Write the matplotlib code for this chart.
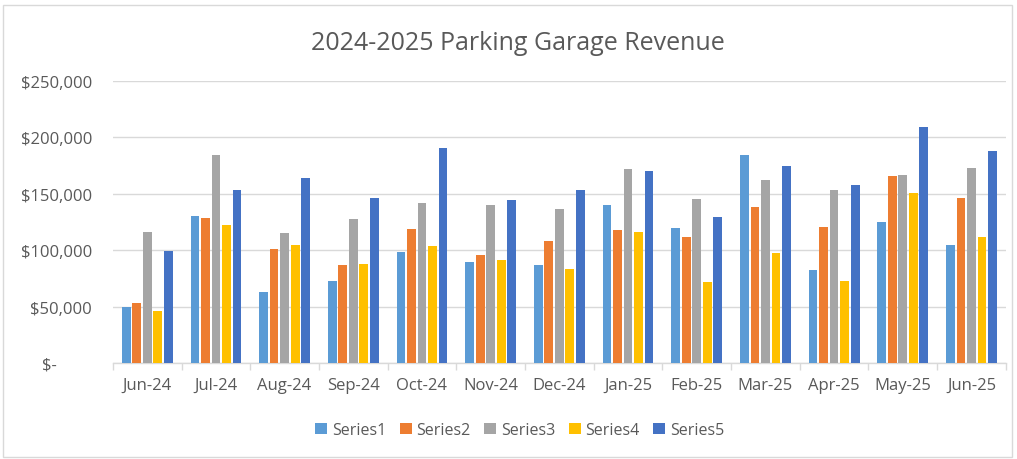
import matplotlib
matplotlib.use('Agg')
import matplotlib.pyplot as plt
from matplotlib.patches import Rectangle
from matplotlib.ticker import FuncFormatter
import numpy as np

months = ['Jun-24', 'Jul-24', 'Aug-24', 'Sep-24', 'Oct-24', 'Nov-24', 'Dec-24',
          'Jan-25', 'Feb-25', 'Mar-25', 'Apr-25', 'May-25', 'Jun-25']

series1 = [50000, 130000, 63000, 73000, 98500, 89500, 87000, 140000, 120000, 184500, 82500, 125000, 105000]
series2 = [53000, 128500, 101000, 87000, 118500, 95500, 108000, 117500, 111500, 138500, 121000, 165500, 146500]
series3 = [116500, 184500, 115000, 128000, 142000, 140000, 136500, 172000, 145500, 162500, 153000, 167000, 173000]
series4 = [46000, 122500, 104500, 87500, 104000, 91000, 83500, 116500, 72000, 97500, 73000, 150500, 111500]
series5 = [99500, 153500, 164000, 146500, 191000, 144500, 153500, 170000, 129500, 175000, 158000, 209000, 188000]

series_names = ['Series1', 'Series2', 'Series3', 'Series4', 'Series5']
colors = ['#5B9BD5', '#ED7D31', '#A5A5A5', '#FFC000', '#4472C4']

plt.rcParams['font.family'] = ['Open Sans', 'DejaVu Sans']

fig = plt.figure(figsize=(10.17, 4.6), dpi=100)
ax = fig.add_axes([0.111, 0.2087, 0.878, 0.613])

x = np.arange(len(months))
step = 0.153
width = 0.128
all_series = [series1, series2, series3, series4, series5]
for i, (vals, name, col) in enumerate(zip(all_series, series_names, colors)):
    ax.bar(x + (i - 2) * step, vals, width=width, color=col, label=name, zorder=3)

ax.set_xlim(-0.5, len(months) - 0.5)
ax.set_ylim(0, 250000)
ax.set_yticks(np.arange(0, 250001, 50000))


def money(v, pos):
    if v == 0:
        return '$-        '
    return '${:,.0f}'.format(v)


ax.yaxis.set_major_formatter(FuncFormatter(money))
ax.set_xticks(x)
ax.set_xticklabels(months)
ax.set_xticks(np.arange(-0.5, len(months), 1), minor=True)

ax.grid(axis='y', color='#D9D9D9', linewidth=1, zorder=0)
for side in ['top', 'right', 'left']:
    ax.spines[side].set_visible(False)
ax.spines['bottom'].set_color('#D9D9D9')
ax.spines['bottom'].set_linewidth(1)

ax.tick_params(axis='y', length=0, pad=15, labelsize=12, labelcolor='#595959')
ax.tick_params(axis='x', which='major', length=0, pad=10, labelsize=12, labelcolor='#595959')
ax.tick_params(axis='x', which='minor', length=5, color='#D9D9D9', width=1)

fig.text(0.509, 0.905, '2024-2025 Parking Garage Revenue', ha='center', va='center',
         fontsize=18, color='#595959')

leg = fig.legend(loc='center', bbox_to_anchor=(0.511, 0.063), ncol=5, frameon=False,
                 fontsize=11.5, handlelength=0.75, handleheight=0.75, handletextpad=0.3,
                 columnspacing=0.85)
for t in leg.get_texts():
    t.set_color('#595959')

fig.patches.append(Rectangle((0.003, 0.005), 0.992, 0.982, transform=fig.transFigure,
                             fill=False, edgecolor='#D9D9D9', linewidth=1))

fig.savefig('out.png', dpi=100)
